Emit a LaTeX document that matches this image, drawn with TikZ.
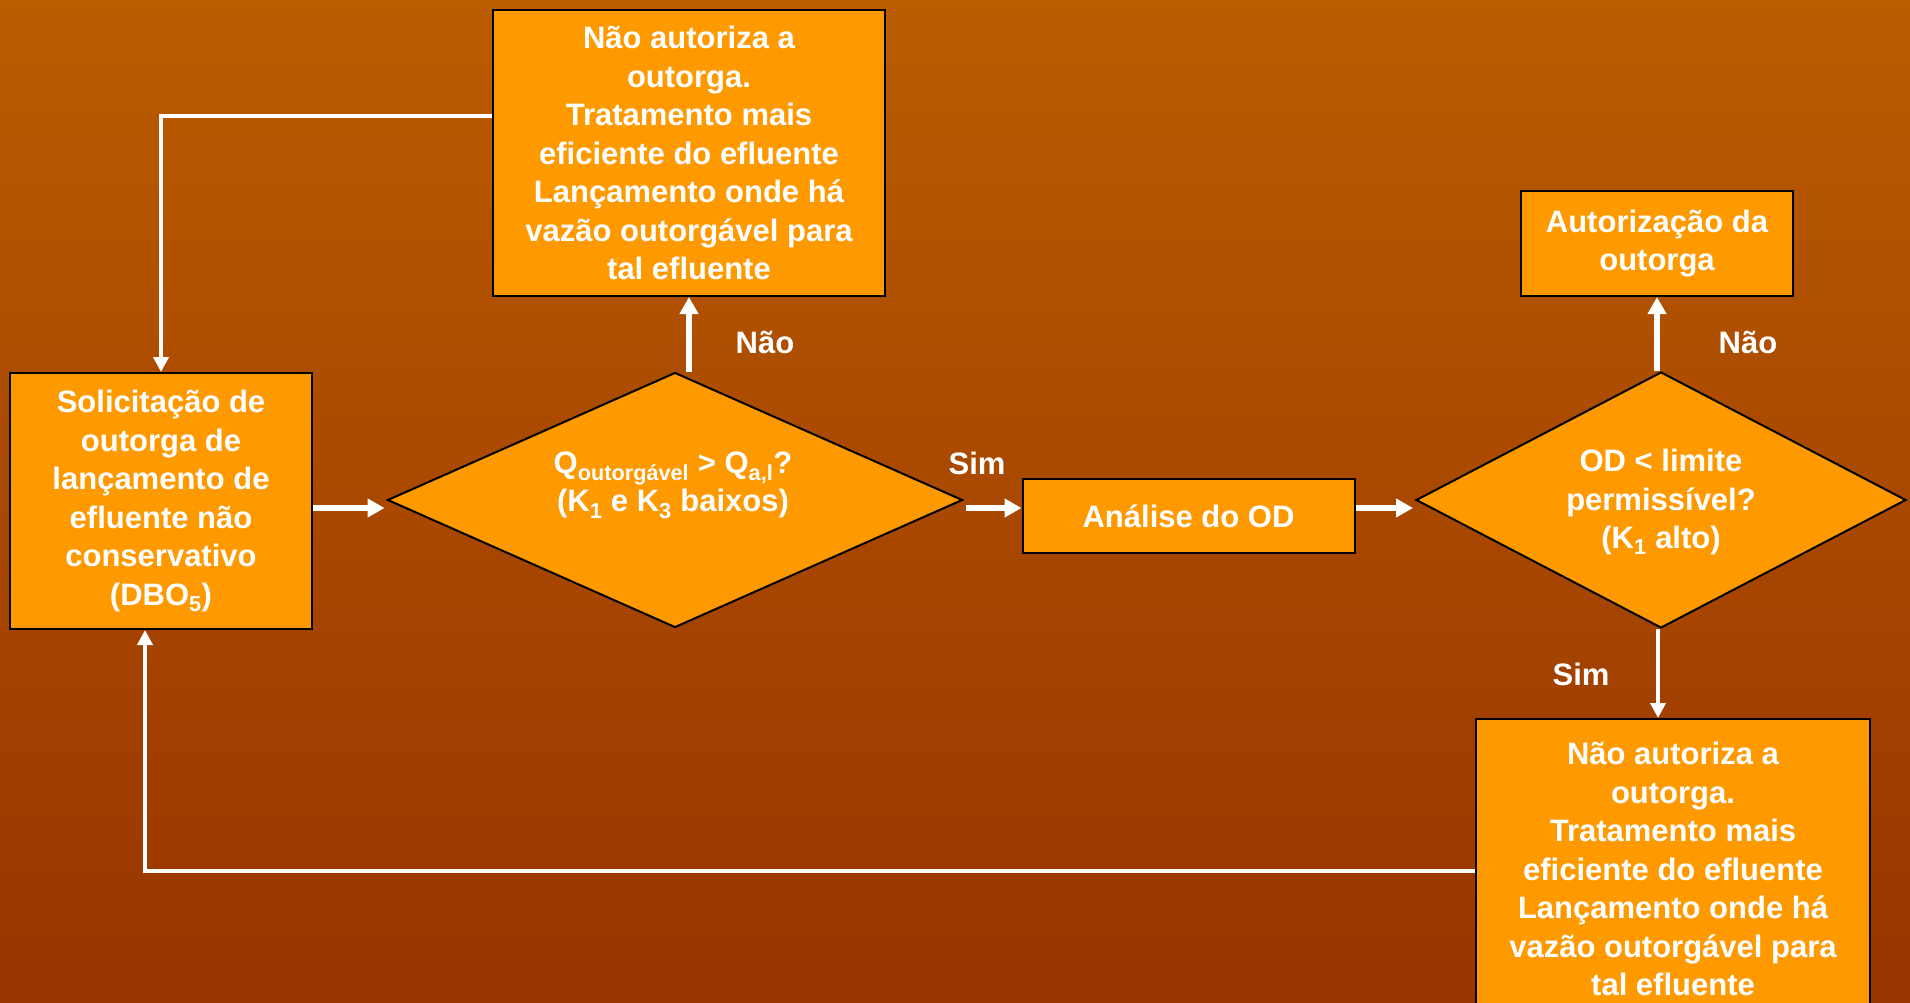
\documentclass[tikz,border=0pt]{standalone}
\usepackage{fontspec}
\setmainfont{Liberation Sans}
\usetikzlibrary{shapes.geometric,arrows.meta}
\definecolor{bgtop}{RGB}{186,92,0}
\definecolor{bgbot}{RGB}{152,52,0}
\definecolor{boxfill}{RGB}{255,153,0}
\tikzset{
  txt/.style={text=white,font=\bfseries\fontsize{31}{38.5}\selectfont,align=center,inner sep=0pt},
  flowbox/.style={draw=black,line width=2pt,fill=boxfill,rectangle,inner sep=0pt,txt},
  decision/.style={draw=black,line width=2pt,fill=boxfill,diamond,inner sep=0pt},
  arrthick/.style={draw=white,line width=6.5pt,-{Triangle[length=17pt,width=18pt]}},
  arrthin/.style={draw=white,line width=4pt,-{Triangle[length=15pt,width=15pt]}},
}
\begin{document}
\begin{tikzpicture}[x=1pt,y=-1pt]
\useasboundingbox (0,0) rectangle (1910,1003);
\clip (0,0) rectangle (1910,1003);
\shade[top color=bgtop,bottom color=bgbot] (0,0) rectangle (1910,1003);

\node[flowbox,minimum width=302pt,minimum height=256pt] (box1) at (161,501)
  {Solicitação de\\outorga de\\lançamento de\\efluente não\\conservativo\\(DBO\textsubscript{5})};

\node[decision,minimum width=575pt,minimum height=255pt] (d1) at (675,500) {};
\node[txt] (d1t) at (673,485)
  {Q\textsubscript{outorgável} > Q\textsubscript{a,l}?\\(K\textsubscript{1} e K\textsubscript{3} baixos)};

\node[flowbox,minimum width=392pt,minimum height=286pt] (topbox) at (689,153)
  {Não autoriza a\\outorga.\\Tratamento mais\\eficiente do efluente\\Lançamento onde há\\vazão outorgável para\\tal efluente};

\node[flowbox,minimum width=332pt,minimum height=74pt] (analise) at (1188.5,516)
  {Análise do OD};

\node[decision,minimum width=490pt,minimum height=256pt] (d2) at (1661,500) {};
\node[txt] (d2t) at (1661,502)
  {OD < limite\\permissível?\\(K\textsubscript{1} alto)};

\node[flowbox,minimum width=272pt,minimum height=105pt] (autoriz) at (1657,243.5)
  {Autorização da\\outorga};

\node[flowbox,minimum width=394pt,minimum height=300pt] (botbox) at (1673,869)
  {Não autoriza a\\outorga.\\Tratamento mais\\eficiente do efluente\\Lançamento onde há\\vazão outorgável para\\tal efluente};

% labels
\node[txt] (nao1) at (765,342) {Não};
\node[txt] (sim1) at (977,463) {Sim};
\node[txt] (nao2) at (1748,342) {Não};
\node[txt] (sim2) at (1581,674) {Sim};

% connectors
\draw[arrthick] ([yshift=-7pt]box1.east) -- ([xshift=-2pt,yshift=-8pt]d1.west);
\draw[arrthick] ([xshift=2pt,yshift=-8pt]d1.east) -- ([yshift=8pt]analise.west);
\draw[arrthick] ([yshift=8pt]analise.east) -- ([xshift=-2pt,yshift=-8pt]d2.west);
\draw[arrthick] ([xshift=14pt]d1.north) -- (topbox.south);
\draw[arrthick] ([xshift=-4pt]d2.north) -- (autoriz.south);
\draw[arrthin] ([xshift=-3pt]d2.south) -- ([xshift=-15pt]botbox.north);
\draw[arrthin] ([yshift=37pt]topbox.west) -| (box1.north);
\draw[arrthin] ([yshift=-2pt]botbox.west) -| ([xshift=-16pt]box1.south);
\end{tikzpicture}
\end{document}
